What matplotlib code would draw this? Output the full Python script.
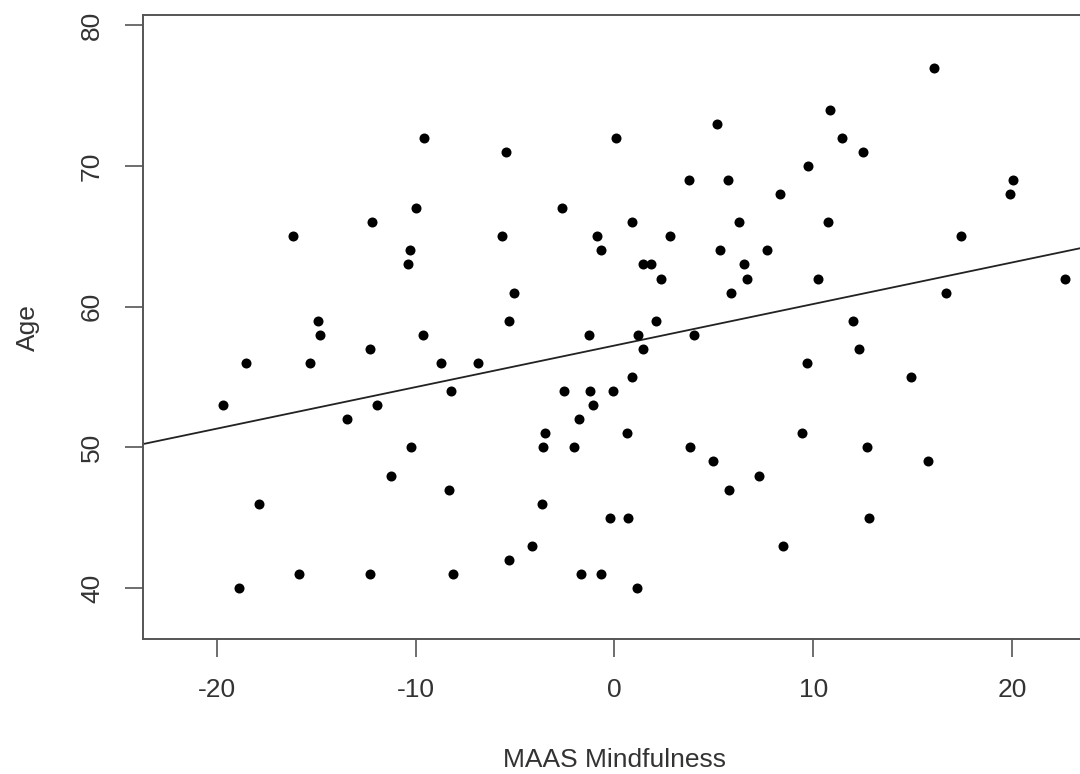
import numpy as np
import matplotlib
matplotlib.use("Agg")
import matplotlib.pyplot as plt

plt.rcParams['font.family'] = ['Liberation Sans', 'DejaVu Sans']
plt.rcParams['axes.unicode_minus'] = False

# MAAS mindfulness (centred) vs age
mindfulness = [-19.70, -18.54, -17.88, -18.89, -16.16, -15.86, -15.30, -14.90, -14.80, -13.43,
               -12.22, -12.32, -11.97, -12.32, -11.26, -10.40, -10.30, -10.00, -10.25, -9.60,
               -9.65, -8.74, -8.23, -8.33, -8.13, -6.87, -5.66, -5.45, -5.30, -5.05,
               -5.30, -4.14, -3.64, -3.59, -3.48, -2.63, -2.53, -2.02, -1.77, -1.67,
               -1.06, -1.21, -1.26, -0.86, -0.66, -0.66, -0.20, -0.05, 0.10, 0.61,
               0.66, 0.86, 0.91, 1.21, 1.16, 1.46, 1.46, 1.82, 2.07, 2.32,
               2.78, 3.74, 3.79, 3.99, 4.95, 5.15, 5.30, 5.71, 5.76, 5.86,
               6.26, 6.52, 6.67, 7.27, 7.68, 8.33, 8.48, 9.44, 9.75, 9.70,
               10.25, 10.86, 10.76, 11.46, 12.02, 12.32, 12.53, 12.73, 12.83, 14.90,
               15.76, 16.06, 16.67, 17.42, 20.05, 19.90, 22.68]
age = [53, 56, 46, 40, 65, 41, 56, 59, 58, 52,
       66, 57, 53, 41, 48, 63, 64, 67, 50, 72,
       58, 56, 54, 47, 41, 56, 65, 71, 59, 61,
       42, 43, 46, 50, 51, 67, 54, 50, 52, 41,
       53, 54, 58, 65, 64, 41, 45, 54, 72, 51,
       45, 66, 55, 58, 40, 57, 63, 63, 59, 62,
       65, 69, 50, 58, 49, 73, 64, 69, 47, 61,
       66, 63, 62, 48, 64, 68, 43, 51, 70, 56,
       62, 74, 66, 72, 59, 57, 71, 50, 45, 55,
       49, 77, 61, 65, 69, 68, 62]

x_ticks = [-20, -10, 0, 10, 20]
y_ticks = [40, 50, 60, 70, 80]

fig = plt.figure(figsize=(10.8, 7.74), dpi=100)
ax = fig.add_axes([0.1324, 0.1744, 0.873, 0.806])

ax.scatter(mindfulness, age, s=52, color='black', zorder=3, linewidths=0)

# least squares line, drawn across the whole plot like abline()
slope, intercept = np.polyfit(mindfulness, age, 1)
xl = (-23.72, 23.72)
ax.plot(xl, [intercept + slope * v for v in xl], color='#222222', lw=1.3, zorder=2)

ax.set_xlim(xl)
ax.set_ylim(36.38, 80.72)
ax.set_xticks(x_ticks)
ax.set_yticks(y_ticks)

for s in ax.spines.values():
    s.set_color('#555555')
    s.set_linewidth(1.4)

ax.tick_params(axis='both', length=13, width=1.2, color='#555555',
               labelsize=19, labelcolor='#333333', pad=15)
ax.tick_params(axis='y', labelrotation=90)
for lab in ax.get_yticklabels():
    lab.set_va('center')

ax.set_xlabel('MAAS Mindfulness', fontsize=19, color='#333333', labelpad=33)
ax.set_ylabel('Age', fontsize=19, color='#333333', labelpad=29)

plt.savefig('out.png', dpi=100)
